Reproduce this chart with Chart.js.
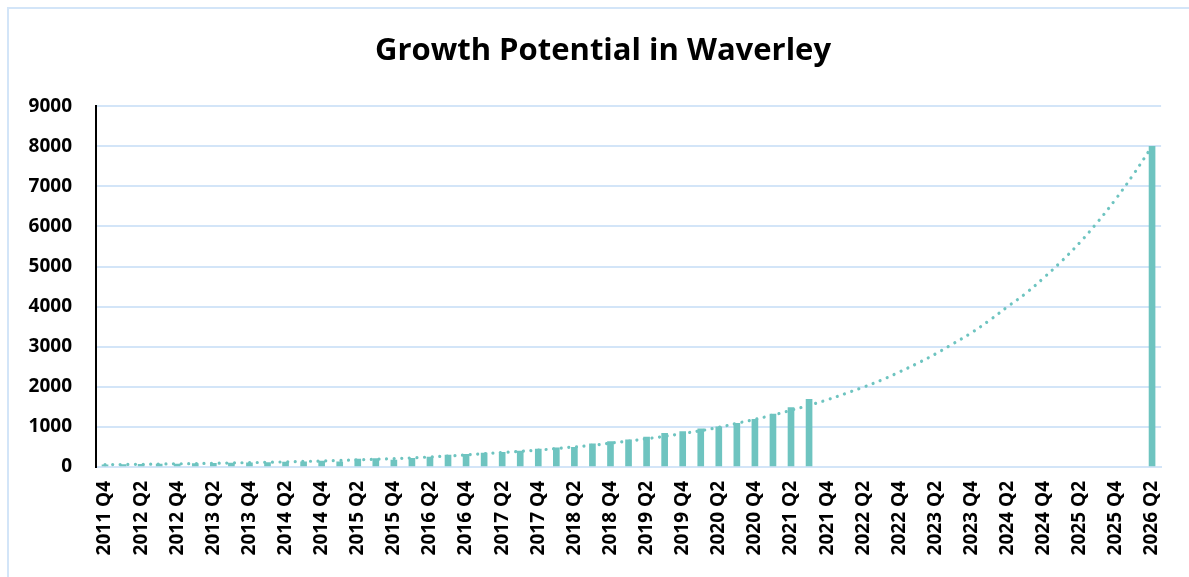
<!DOCTYPE html>
<html>
<head>
<meta charset="utf-8">
<script src="https://cdn.jsdelivr.net/npm/chart.js@4.4.1/dist/chart.umd.min.js"></script>
<style>
  html, body { margin:0; padding:0; background:#fff; overflow:hidden; }
  #frame { position:absolute; left:7px; top:7px; width:1200px; height:600px; border:2px solid #d3e5f8; box-sizing:border-box; pointer-events:none; }
  #c { position:absolute; left:0; top:0; }
</style>
</head>
<body>
<div id="frame"></div>
<canvas id="c" width="1189" height="577"></canvas>
<script>
const titleText = 'Growth Potential in Waverley';

const quarters = [
  '2011 Q4',
  '2012 Q1','2012 Q2','2012 Q3','2012 Q4',
  '2013 Q1','2013 Q2','2013 Q3','2013 Q4',
  '2014 Q1','2014 Q2','2014 Q3','2014 Q4',
  '2015 Q1','2015 Q2','2015 Q3','2015 Q4',
  '2016 Q1','2016 Q2','2016 Q3','2016 Q4',
  '2017 Q1','2017 Q2','2017 Q3','2017 Q4',
  '2018 Q1','2018 Q2','2018 Q3','2018 Q4',
  '2019 Q1','2019 Q2','2019 Q3','2019 Q4',
  '2020 Q1','2020 Q2','2020 Q3','2020 Q4',
  '2021 Q1','2021 Q2','2021 Q3','2021 Q4',
  '2022 Q1','2022 Q2','2022 Q3','2022 Q4',
  '2023 Q1','2023 Q2','2023 Q3','2023 Q4',
  '2024 Q1','2024 Q2','2024 Q3','2024 Q4',
  '2025 Q1','2025 Q2','2025 Q3','2025 Q4',
  '2026 Q1','2026 Q2'
];

// Actual values (bars); null where no bar
const actualValues = [
  55, 60, 65, 70, 75, 85, 90, 95, 105, 110,
  125, 130, 150, 130, 195, 210, 175, 215, 250, 300,
  315, 345, 365, 400, 445, 480, 490, 575, 635, 680,
  745, 840, 885, 950, 1005, 1090, 1190, 1320, 1480, 1690,
  null, null, null, null, null, null, null, null, null, null,
  null, null, null, null, null, null, null, null, 8000
];

// Trend line values read at each quarter
const trendValues = [
  58, 63, 68, 74, 80, 86, 93, 101, 109, 118,
  128, 139, 150, 165, 178, 193, 210, 228, 250, 275,
  300, 330, 360, 390, 420, 460, 500, 540, 595, 645,
  705, 765, 835, 905, 990, 1090, 1190, 1295, 1415, 1540,
  1675, 1830, 1990, 2165, 2370, 2585, 2820, 3080, 3350, 3660,
  4000, 4330, 4720, 5140, 5600, 6120, 6690, 7320, 8000
];

const yTicksMax = 9000;
const yTickStep = 1000;

const teal = '#6ec4c0';
const gridColor = '#d3e5f8';
const fontFamily = '"Open Sans", Lato, sans-serif';

// shift the title's centring box to match the framed chart
const titleShift = {
  id: 'titleShift',
  beforeDraw(chart) {
    if (chart.titleBlock) { chart.titleBlock.left = 34; }
  }
};

new Chart(document.getElementById('c'), {
  plugins: [titleShift],
  data: {
    labels: quarters,
    datasets: [
      {
        type: 'line',
        data: trendValues,
        borderColor: teal,
        borderWidth: 3.2,
        borderDash: [0.01, 7.6],
        borderCapStyle: 'round',
        pointRadius: 0,
        tension: 0.4,
        fill: false,
        order: 0
      },
      {
        type: 'bar',
        data: actualValues,
        backgroundColor: teal,
        barThickness: 6,
        order: 1
      }
    ]
  },
  options: {
    responsive: false,
    animation: false,
    events: [],
    layout: { padding: { left: 0, right: 17, top: 0, bottom: 0 } },
    plugins: {
      legend: { display: false },
      tooltip: { enabled: false },
      title: {
        display: true,
        text: titleText,
        color: '#000',
        font: { family: fontFamily, size: 31, weight: 'bold' },
        padding: { top: 33, bottom: 36 }
      }
    },
    scales: {
      x: {
        grid: { display: false, drawTicks: false },
        border: { display: true, color: gridColor, width: 2 },
        ticks: {
          autoSkip: false,
          minRotation: 90,
          maxRotation: 90,
          padding: 14,
          color: '#000',
          font: { family: fontFamily, size: 19, weight: 'bold' },
          callback: (v, i) => (i % 2 === 0 ? quarters[i] : '')
        },
        afterFit: s => { s.height = 110; }
      },
      y: {
        min: 0,
        max: yTicksMax,
        ticks: {
          stepSize: yTickStep,
          padding: 24,
          color: '#000',
          font: { family: fontFamily, size: 19, weight: 'bold' },
          callback: v => String(v)
        },
        grid: { color: gridColor, lineWidth: 2, drawTicks: false },
        border: { display: true, color: '#000', width: 2 },
        afterFit: s => { s.width = 96; }
      }
    }
  }
});
</script>
</body>
</html>
